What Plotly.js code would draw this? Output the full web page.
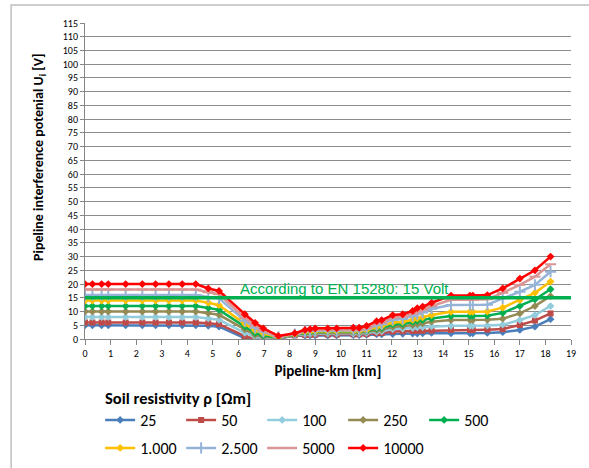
<!DOCTYPE html>
<html>
<head>
<meta charset="utf-8">
<script src="https://cdn.plot.ly/plotly-3.0.1.min.js"></script>
<style>html,body{margin:0;padding:0;background:#fff;}#chart{width:589px;height:468px;}</style>
</head>
<body>
<div id="chart"></div>
<script>
// Pipeline-km positions of the calculation points
var km = [0, 0.29, 0.65, 0.91, 1.59, 2.24, 2.76, 3.28, 3.8, 4.33, 4.82, 5.24, 6.25, 6.65, 6.97, 7.56, 8.2, 8.6, 8.8, 9.0, 9.49, 9.84, 10.49, 10.72, 11.01, 11.4, 11.6, 12.03, 12.42, 12.81, 12.99, 13.2, 13.55, 14.31, 15.05, 15.16, 15.73, 16.33, 17.0, 17.59, 18.2];

var seriesNames = ["25", "50", "100", "250", "500", "1.000", "2.500", "5000", "10000"];

var u25 = [5,5,5,5,5,5,5,5,5,5, 4.8,4.5,0.3,0,0,0.2,1.2,1.2,1.3,1.3,1.3,1.3,1.4,1.4,1.5,1.7,1.7,1.8,1.9,2.0,2.0,2.1,2.2,2.1,2.1,2.1,2.2,2.5,3.3,4.5,7.2];
var u50 = [6,6,6,6,6,6,6,6,6,6, 5.7,5.4,1.0,0,0,0.3,1.3,1.5,1.6,1.6,1.6,1.6,1.7,1.7,1.8,2.1,2.2,2.7,2.8,2.9,3.0,3.0,3.1,3.3,3.3,3.3,3.4,3.6,5.1,6.7,9.3];
var u100 = [8,8,8,8,8,8,8,8,8,8, 7.5,7.0,2.2,0.8,0.3,0.4,1.4,1.8,1.9,2.0,2.0,2.0,2.0,2.0,2.2,2.6,2.8,3.6,3.7,4.0,4.2,4.3,4.6,4.8,4.8,4.8,4.9,5.2,6.9,8.7,12.0];
var u250 = [10,10,10,10,10,10,10,10,10,10, 9.4,8.8,3.5,1.5,0.8,0.5,1.5,2.1,2.2,2.3,2.3,2.3,2.4,2.4,2.6,3.2,3.4,4.4,4.6,5.1,5.4,5.7,6.3,6.9,6.9,6.9,7.0,7.4,9.3,12.0,15.6];
var u500 = [12,12,12,12,12,12,12,12,12,12, 11.3,10.6,4.5,2.2,1.3,0.6,1.6,2.4,2.5,2.6,2.6,2.6,2.7,2.7,3.0,3.8,4.1,5.3,5.5,6.2,6.6,6.9,7.5,8.4,8.4,8.4,8.5,9.5,12.0,14.4,18.1];
var u1000 = [14,14,14,14,14,14,14,14,14,14, 13.2,12.3,5.5,3.1,2.0,0.7,1.7,2.6,2.7,2.8,2.8,2.8,2.9,2.9,3.3,4.3,4.6,6.0,6.2,7.0,7.5,7.9,8.7,9.9,9.9,9.9,10.0,11.4,14.2,16.8,20.9];
var u2500 = [16,16,16,16,16,16,16,16,16,16, 15.3,14.8,6.6,4.1,2.6,0.8,1.8,2.8,3.0,3.1,3.1,3.1,3.2,3.2,3.7,5.0,5.4,7.0,7.3,8.3,9.0,9.6,11.0,12.4,12.4,12.4,12.5,14.8,17.2,19.7,24.5];
var u5000 = [18,18,18,18,18,18,18,18,18,18, 17.0,16.3,7.6,4.9,3.1,0.9,1.9,3.0,3.2,3.4,3.4,3.5,3.5,3.5,4.1,5.6,6.0,7.8,8.1,9.2,10.0,10.6,12.0,14.3,14.3,14.3,14.5,16.8,19.7,22.7,27.2];
var u10000 = [20,20,20,20,20,20,20,20,20,20, 18.4,17.5,9.0,5.9,3.9,1.1,2.1,3.3,3.6,3.9,3.9,3.9,4.1,4.1,4.8,6.5,6.9,8.7,9.0,10.2,11.2,11.8,13.2,15.8,15.8,15.8,16.0,18.4,22.0,25.0,30.0];

var limitKm = [0, 19];
var limitVolt = [15, 15];
var limitLabel = "According to EN 15280: 15 Volt";

var xTicks = [0,1,2,3,4,5,6,7,8,9,10,11,12,13,14,15,16,17,18,19];

var values = [u25, u50, u100, u250, u500, u1000, u2500, u5000, u10000];
var colors = ["#4A7EBB", "#BE4B48", "#93CDDD", "#948A54", "#00B050", "#FFC000", "#95B3D7", "#D99694", "#FF0000"];
var symbols = ["diamond", "square", "diamond", "diamond", "diamond", "diamond", "cross-thin", "line-ew", "diamond"];

var traces = values.map(function (v, i) {
  var thin = symbols[i] === "cross-thin" || symbols[i] === "line-ew";
  var t = {
    type: "scatter", mode: "lines+markers",
    x: km, y: v, name: seriesNames[i],
    legend: i < 5 ? "legend" : "legend2",
    line: {color: colors[i], width: 2.5},
    marker: {color: colors[i], symbol: symbols[i], size: thin ? 8 : 6, line: {color: colors[i], width: thin ? 2 : 0}}
  };
  if (i === 4 || i === 8) t.legendwidth = 60;
  return t;
});
traces.push({
  type: "scatter", mode: "lines", x: limitKm, y: limitVolt, name: limitLabel,
  showlegend: false, line: {color: "#00B050", width: 3.5}, hoverinfo: "skip"
});

var cal = "Carlito, Lato, sans-serif";
var layout = {
  width: 589, height: 468,
  margin: {l: 85, r: 18, t: 23, b: 129},
  paper_bgcolor: "#fff", plot_bgcolor: "#fff",
  font: {family: cal, size: 10, color: "#000"},
  showlegend: true,
  xaxis: {
    range: [0, 19], tickvals: xTicks, ticktext: xTicks.map(String),
    showgrid: false, zeroline: false,
    showline: true, linecolor: "#868686", linewidth: 1,
    ticks: "outside", ticklen: 5, tickcolor: "#868686",
    tickfont: {family: cal, size: 10},
    title: {text: "<b>Pipeline-km [km]</b>", font: {family: cal, size: 15}, standoff: 6}
  },
  yaxis: {
    range: [0, 115], dtick: 5, tick0: 0,
    showgrid: true, gridcolor: "#8C8C8C", gridwidth: 1, zeroline: false,
    showline: true, linecolor: "#868686", linewidth: 1,
    ticks: "outside", ticklen: 4, tickcolor: "#868686",
    tickfont: {family: cal, size: 10}
  },
  legend: {
    orientation: "h", xref: "container", yref: "container",
    x: 0.170, xanchor: "left", y: 0.1026, yanchor: "middle",
    bgcolor: "rgba(0,0,0,0)", font: {family: cal, size: 16},
    entrywidth: 36, entrywidthmode: "pixels", itemwidth: 30
  },
  legend2: {
    orientation: "h", xref: "container", yref: "container",
    x: 0.170, xanchor: "left", y: 0.0427, yanchor: "middle",
    bgcolor: "rgba(0,0,0,0)", font: {family: cal, size: 16},
    entrywidth: 36, entrywidthmode: "pixels", itemwidth: 30
  },
  annotations: [{
    x: 5.97, y: 18.5, xref: "x", yref: "y", xanchor: "left", yanchor: "middle",
    text: limitLabel, showarrow: false,
    font: {family: "Liberation Sans, Arial, sans-serif", size: 15, color: "#00B050"}
  }, {
    x: -0.0926, y: 0.576, xref: "paper", yref: "paper", xanchor: "center", yanchor: "middle",
    textangle: -90, showarrow: false,
    text: "<b>Pipeline interference potenial U<sub>i</sub> [V]</b>",
    font: {family: cal, size: 14, color: "#000"}
  }, {
    x: 0.037, y: -0.1867, xref: "paper", yref: "paper", xanchor: "left", yanchor: "middle",
    showarrow: false, text: "<b>Soil resistivity ρ [Ωm]</b>",
    font: {family: cal, size: 16.5, color: "#000"}
  }],
  shapes: [{
    type: "rect", xref: "paper", yref: "paper",
    x0: -0.152, x1: 1.2, y0: -0.6, y1: 1.057,
    line: {color: "#BFBFBF", width: 1.5}, fillcolor: "rgba(0,0,0,0)", layer: "below"
  }]
};

Plotly.newPlot("chart", traces, layout, {displayModeBar: false, staticPlot: true});
</script>
</body>
</html>
